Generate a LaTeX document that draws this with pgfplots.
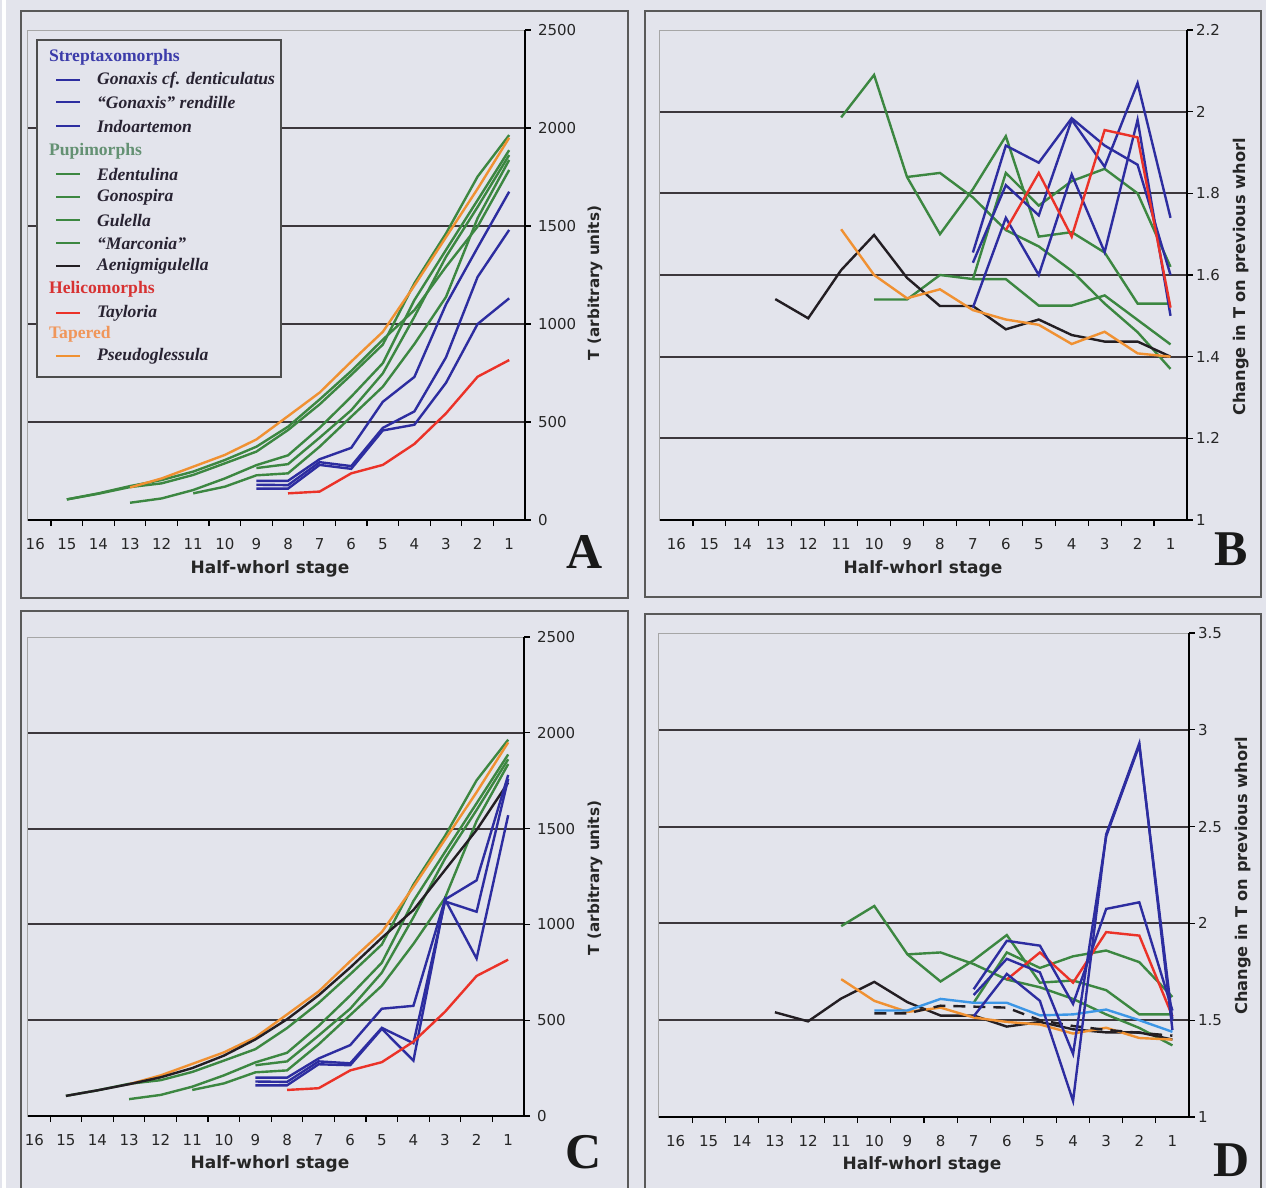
\documentclass[border=0pt]{standalone}
\usepackage{fontspec}
\setmainfont{Liberation Serif}
\newfontfamily\verd{DejaVu Sans}
\usepackage{pgfplots}
\pgfplotsset{compat=1.18}
\definecolor{bgc}{RGB}{227,228,236}
\definecolor{bl}{RGB}{45,45,160}
\definecolor{gr}{RGB}{60,135,65}
\definecolor{rd}{RGB}{235,50,40}
\definecolor{og}{RGB}{240,145,50}
\definecolor{bk}{RGB}{35,30,35}
\definecolor{lb}{RGB}{60,150,230}
\definecolor{gridc}{RGB}{60,55,60}
\definecolor{hS}{RGB}{60,60,170}
\definecolor{hP}{RGB}{100,145,115}
\definecolor{hH}{RGB}{215,50,50}
\definecolor{hT}{RGB}{240,150,90}
\definecolor{lgt}{RGB}{40,35,50}
\pgfplotsset{
 panel/.style={
  scale only axis, anchor=south west,
  x dir=reverse, xmin=0.5,
  xtick={1,...,16}, xtick style={draw=none},
  extra x ticks={1.5,2.5,...,15.5}, extra x tick labels={},
  extra x tick style={xtick style={draw=black, line width=0.6pt}},
  xtick pos=bottom, ytick pos=right, yticklabel pos=right,
  tick align=outside, major tick length=3pt,
  ytick style={black, line width=0.6pt},
  axis line style={draw=black!35, line width=0.5pt},
  tick label style={font=\verd\fontsize{7.5}{9}\selectfont, text=black!85},
  xticklabel style={yshift=-2.5pt},
  /pgf/number format/assume math mode=true,
  /pgf/number format/1000 sep={},
  extra y tick labels={},
  extra y tick style={grid=major},
  grid style={draw=gridc, line width=1pt},
  every axis plot/.append style={line width=1.2pt, mark=none},
  extra description/.code={
    \draw[black, line width=1pt] (axis description cs:0,0) -- (axis description cs:1,0) -- (axis description cs:1,1);
  },
 }
}
\begin{document}
\begin{tikzpicture}
\path[use as bounding box] (0,0) rectangle (633pt,-594pt);
\fill[bgc] (0,0) rectangle (633pt,-594pt);
\begin{scope}[x=0.5pt,y=-0.5pt]
\fill[white] (2,0) rectangle (6,1188);
\draw[black!65, line width=1pt] (21,11) rectangle (628,598);
\draw[black!65, line width=1pt] (645,11) rectangle (1261,597);
\draw[black!65, line width=1pt] (21,1190) -- (21,611) -- (628,611) -- (628,1190);
\draw[black!65, line width=1pt] (645,1190) -- (645,614) -- (1261,614) -- (1261,1190);
\end{scope}

% ---------------- Panel A ----------------
\begin{axis}[panel, at={(14pt,-260pt)}, width=248.5pt, height=245pt,
  xmax=16.23, ymin=0, ymax=2500, ytick={0,500,1000,1500,2000,2500},
  extra y ticks={500,1000,1500,2000}]
\addplot[gr] coordinates {(15,105)(14,136)(13,173)(12,204)(11,247)(10,306)(9,374)(8,476)(7,615)(6,760)(5,920)(4,1071)(3,1292)(2,1497)(1,1786)};
\addplot[gr] coordinates {(15,105)(14,134)(13,168)(12,187)(11,230)(10,289)(9,349)(8,459)(7,590)(6,740)(5,895)(4,1208)(3,1462)(2,1752)(1,1964)};
\addplot[gr] coordinates {(13,88)(12,110)(11,153)(10,212)(9,280)(8,330)(7,470)(6,629)(5,800)(4,1122)(3,1378)(2,1632)(1,1887)};
\addplot[gr] coordinates {(9,265)(8,285)(7,420)(6,560)(5,748)(4,1037)(3,1343)(2,1597)(1,1862)};
\addplot[gr] coordinates {(11,136)(10,170)(9,228)(8,238)(7,374)(6,527)(5,680)(4,898)(3,1138)(2,1540)(1,1837)};
\addplot[og] coordinates {(13,166)(12,212)(11,272)(10,332)(9,411)(8,530)(7,650)(6,808)(5,960)(4,1196)(3,1443)(2,1690)(1,1950)};
\addplot[bl] coordinates {(9,200)(8,200)(7,310)(6,368)(5,603)(4,730)(3,1100)(2,1390)(1,1675)};
\addplot[bl] coordinates {(9,180)(8,178)(7,295)(6,275)(5,470)(4,554)(3,830)(2,1240)(1,1480)};
\addplot[bl] coordinates {(9,160)(8,160)(7,281)(6,261)(5,457)(4,486)(3,700)(2,1000)(1,1131)};
\addplot[rd] coordinates {(8,136)(7,145)(6,238)(5,281)(4,388)(3,544)(2,731)(1,816)};
\end{axis}

% ---------------- Panel B ----------------
\begin{axis}[panel, at={(330pt,-260pt)}, width=263.5pt, height=245pt,
  xmax=16.5, ymin=1, ymax=2.2, ytick={1,1.2,1.4,1.6,1.8,2,2.2},
  extra y ticks={1.2,1.4,1.6,1.8,2}, yticklabel style={xshift=-2pt}]
\addplot[gr] coordinates {(11,1.986)(10,2.09)(9,1.84)(8,1.70)(7,1.81)(6,1.94)(5,1.694)(4,1.705)(3,1.655)(2,1.53)(1,1.53)};
\addplot[gr] coordinates {(10,1.54)(9,1.54)(8,1.60)(7,1.59)(6,1.59)(5,1.525)(4,1.525)(3,1.55)(2,1.49)(1,1.43)};
\addplot[gr] coordinates {(9,1.84)(8,1.85)(7,1.79)(6,1.71)(5,1.67)(4,1.61)(3,1.53)(2,1.46)(1,1.37)};
\addplot[gr] coordinates {(7,1.59)(6,1.85)(5,1.77)(4,1.83)(3,1.86)(2,1.80)(1,1.62)};
\addplot[bk] coordinates {(13,1.541)(12,1.494)(11,1.612)(10,1.698)(9,1.593)(8,1.524)(7,1.524)(6,1.467)(5,1.491)(4,1.453)(3,1.437)(2,1.437)(1,1.40)};
\addplot[og] coordinates {(11,1.712)(10,1.60)(9,1.543)(8,1.565)(7,1.514)(6,1.491)(5,1.478)(4,1.431)(3,1.461)(2,1.408)(1,1.40)};
\addplot[bl] coordinates {(7,1.655)(6,1.917)(5,1.875)(4,1.984)(3,1.917)(2,1.87)(1,1.60)};
\addplot[bl] coordinates {(7,1.63)(6,1.82)(5,1.746)(4,1.98)(3,1.865)(2,2.07)(1,1.74)};
\addplot[bl] coordinates {(7,1.52)(6,1.74)(5,1.60)(4,1.846)(3,1.656)(2,1.98)(1,1.50)};
\addplot[rd] coordinates {(6,1.71)(5,1.85)(4,1.694)(3,1.955)(2,1.937)(1,1.52)};
\end{axis}

% ---------------- Panel C ----------------
\begin{axis}[panel, at={(14pt,-558pt)}, width=248pt, height=239.5pt,
  xmax=16.2, ymin=0, ymax=2500, ytick={0,500,1000,1500,2000,2500},
  extra y ticks={500,1000,1500,2000}]
\addplot[gr] coordinates {(15,105)(14,134)(13,168)(12,187)(11,230)(10,289)(9,349)(8,459)(7,590)(6,740)(5,895)(4,1208)(3,1462)(2,1752)(1,1964)};
\addplot[gr] coordinates {(13,88)(12,110)(11,153)(10,212)(9,280)(8,330)(7,470)(6,629)(5,800)(4,1122)(3,1378)(2,1632)(1,1887)};
\addplot[gr] coordinates {(9,265)(8,285)(7,420)(6,560)(5,748)(4,1037)(3,1343)(2,1597)(1,1862)};
\addplot[gr] coordinates {(11,136)(10,170)(9,228)(8,238)(7,374)(6,527)(5,680)(4,898)(3,1138)(2,1540)(1,1837)};
\addplot[og] coordinates {(13,166)(12,212)(11,272)(10,332)(9,411)(8,530)(7,650)(6,808)(5,960)(4,1196)(3,1443)(2,1690)(1,1950)};
\addplot[bk] coordinates {(15,105)(14,134)(13,166)(12,202)(11,250)(10,315)(9,400)(8,505)(7,630)(6,775)(5,930)(4,1075)(3,1284)(2,1493)(1,1740)};
\addplot[bl] coordinates {(9,200)(8,200)(7,300)(6,370)(5,560)(4,575)(3,1130)(2,1230)(1,1780)};
\addplot[bl] coordinates {(9,180)(8,178)(7,285)(6,275)(5,460)(4,380)(3,1120)(2,1066)(1,1760)};
\addplot[bl] coordinates {(9,160)(8,160)(7,270)(6,265)(5,455)(4,289)(3,1130)(2,822)(1,1570)};
\addplot[rd] coordinates {(8,136)(7,145)(6,238)(5,281)(4,388)(3,544)(2,731)(1,816)};
\end{axis}

% ---------------- Panel D ----------------
\begin{axis}[panel, at={(329.5pt,-558.5pt)}, width=265pt, height=242pt,
  xmax=16.5, ymin=1, ymax=3.5, ytick={1,1.5,2,2.5,3,3.5},
  extra y ticks={1.5,2,2.5,3}, yticklabel style={xshift=-2pt}]
\addplot[gr] coordinates {(11,1.986)(10,2.09)(9,1.84)(8,1.70)(7,1.81)(6,1.94)(5,1.694)(4,1.705)(3,1.655)(2,1.53)(1,1.53)};
\addplot[gr] coordinates {(9,1.84)(8,1.85)(7,1.79)(6,1.71)(5,1.67)(4,1.61)(3,1.53)(2,1.46)(1,1.37)};
\addplot[gr] coordinates {(7,1.59)(6,1.85)(5,1.77)(4,1.83)(3,1.86)(2,1.80)(1,1.62)};
\addplot[bk] coordinates {(13,1.541)(12,1.494)(11,1.612)(10,1.698)(9,1.593)(8,1.524)(7,1.524)(6,1.467)(5,1.491)(4,1.453)(3,1.437)(2,1.437)(1,1.40)};
\addplot[og] coordinates {(11,1.712)(10,1.60)(9,1.543)(8,1.565)(7,1.514)(6,1.491)(5,1.478)(4,1.431)(3,1.461)(2,1.408)(1,1.40)};
\addplot[bk, dash pattern=on 6pt off 4pt] coordinates {(10,1.535)(9,1.535)(8,1.575)(7,1.57)(6,1.565)(5,1.50)(4,1.47)(3,1.45)(2,1.435)(1,1.42)};
\addplot[lb] coordinates {(10,1.55)(9,1.55)(8,1.61)(7,1.59)(6,1.59)(5,1.525)(4,1.53)(3,1.555)(2,1.50)(1,1.44)};
\addplot[rd] coordinates {(6,1.71)(5,1.85)(4,1.694)(3,1.955)(2,1.937)(1,1.52)};
\addplot[bl] coordinates {(7,1.66)(6,1.91)(5,1.885)(4,1.584)(3,2.075)(2,2.109)(1,1.55)};
\addplot[bl] coordinates {(7,1.63)(6,1.817)(5,1.747)(4,1.326)(3,2.45)(2,2.92)(1,1.50)};
\addplot[bl] coordinates {(7,1.52)(6,1.739)(5,1.60)(4,1.083)(3,2.46)(2,2.93)(1,1.45)};
\end{axis}

\begin{scope}[x=0.5pt,y=-0.5pt]
% legend
\draw[black!70, line width=0.7pt, fill=bgc] (37,40) rectangle (281,377);
\tikzset{hd/.style={anchor=west, font=\bfseries\fontsize{8.8}{10}\selectfont},
  en/.style={anchor=west, text=lgt, font=\bfseries\itshape\fontsize{8.8}{10}\selectfont}}
\node[hd, text=hS] at (42,57) {Streptaxomorphs};
\draw[bl, line width=1.1pt] (56,80) -- (80,80);   \node[en] at (90,80) {Gonaxis cf. denticulatus};
\draw[bl, line width=1.1pt] (56,102) -- (80,102); \node[en] at (90,102) {“Gonaxis” rendille};
\draw[bl, line width=1.1pt] (56,126) -- (80,126); \node[en] at (90,126) {Indoartemon};
\node[hd, text=hP] at (42,151) {Pupimorphs};
\draw[gr, line width=1.1pt] (56,174) -- (80,174); \node[en] at (90,174) {Edentulina};
\draw[gr, line width=1.1pt] (56,197) -- (80,197); \node[en] at (90,197) {Gonospira};
\draw[gr, line width=1.1pt] (56,220) -- (80,220); \node[en] at (90,220) {Gulella};
\draw[gr, line width=1.1pt] (56,243) -- (80,243); \node[en] at (90,243) {“Marconia”};
\draw[bk, line width=1.1pt] (56,266) -- (80,266); \node[en] at (90,266) {Aenigmigulella};
\node[hd, text=hH] at (42,289) {Helicomorphs};
\draw[rd, line width=1.1pt] (56,313) -- (80,313); \node[en] at (90,313) {Tayloria};
\node[hd, text=hT] at (42,334) {Tapered};
\draw[og, line width=1.1pt] (56,356) -- (80,356); \node[en] at (90,356) {Pseudoglessula};
% axis titles
\tikzset{ttl/.style={font=\verd\bfseries\fontsize{8.5}{10}\selectfont, text=black!85}}
\node[ttl] at (270,569) {Half-whorl stage};
\node[ttl] at (923,569) {Half-whorl stage};
\node[ttl] at (270,1164) {Half-whorl stage};
\node[ttl] at (922,1165) {Half-whorl stage};
\node[ttl, rotate=90, font=\verd\bfseries\fontsize{7.6}{9}\selectfont] at (595,283) {T (arbitrary units)};
\node[ttl, rotate=90, font=\verd\bfseries\fontsize{7.6}{9}\selectfont] at (595,878) {T (arbitrary units)};
\node[ttl, rotate=90, font=\verd\bfseries\fontsize{8.1}{9}\selectfont] at (1241,277) {Change in T on previous whorl};
\node[ttl, rotate=90, font=\verd\bfseries\fontsize{8.1}{9}\selectfont] at (1243,876) {Change in T on previous whorl};
% panel letters
\tikzset{pl/.style={font=\bfseries\fontsize{25}{25}\selectfont, text=black!90}}
\node[pl] at (585,552) {A};
\node[pl] at (1231,549) {B};
\node[pl] at (584,1152) {C};
\node[pl] at (1232,1160) {D};
\end{scope}
\end{tikzpicture}
\end{document}
